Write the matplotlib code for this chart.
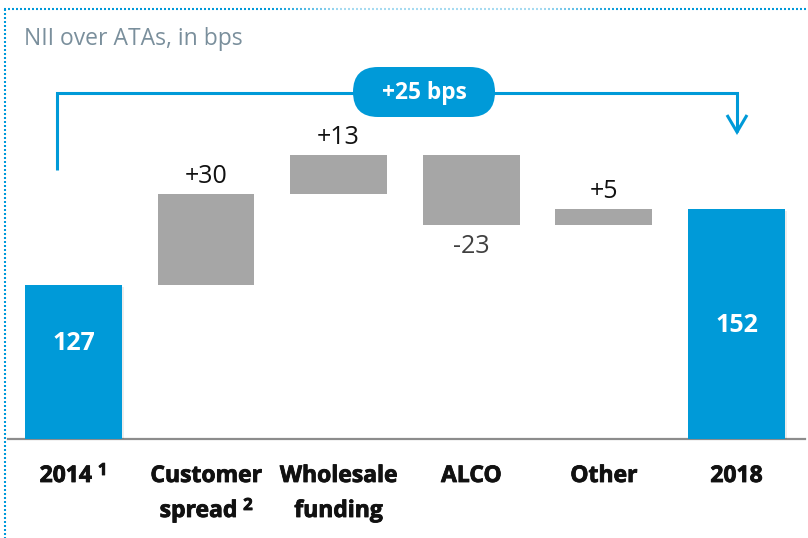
import matplotlib
matplotlib.use("Agg")
import matplotlib.pyplot as plt
import matplotlib.patheffects as pe
from matplotlib.patches import FancyBboxPatch
from matplotlib.collections import LineCollection
import numpy as np

# ---- data ----
categories = ["2014", "Customer\nspread", "Wholesale\nfunding", "ALCO", "Other", "2018"]
footnotes = ["1", "2", "", "", "", ""]
start_value = 127
changes = [30, 13, -23, 5]
change_labels = ["+30", "+13", "-23", "+5"]
end_value = 152
total_label = "+25 bps"
title = "NII over ATAs, in bps"

# ---- style ----
BLUE = "#009ad8"
GREY = "#a6a6a6"
TITLE_C = "#7a8f9c"
FONT = ["Open Sans", "DejaVu Sans"]
W, H = 808, 538

fig = plt.figure(figsize=(W / 100, H / 100), dpi=100)
ax = fig.add_axes([8 / W, (H - 439) / H, (805 - 8) / W, 439 / H])
ax.set_xlim(-0.494, 5.517)
ax.set_ylim(76.5, 220.8)
for s in ["top", "left", "right"]:
    ax.spines[s].set_visible(False)
ax.spines["bottom"].set_color("#8c8c8c")
ax.spines["bottom"].set_linewidth(1.6)
ax.set_xticks([])
ax.set_yticks([])
ax.patch.set_alpha(0)

shadow = [pe.SimplePatchShadow(offset=(1.5, -1.5), shadow_rgbFace="#000000", alpha=0.07), pe.Normal()]
bw = 0.73

# totals
for i, v in [(0, start_value), (5, end_value)]:
    b = ax.bar(i, v, width=bw, color=BLUE, zorder=3)
    b[0].set_path_effects(shadow)

# floating steps
run = start_value
for k, (c, lab) in enumerate(zip(changes, change_labels)):
    i = k + 1
    lo, hi = min(run, run + c), max(run, run + c)
    ax.bar(i, hi - lo, bottom=lo, width=bw, color=GREY, zorder=3)
    if c >= 0:
        ax.annotate(lab, xy=(i, hi), xytext=(0, 11), textcoords="offset pixels",
                    ha="center", va="baseline", fontsize=18, family=FONT, color="#111111")
    else:
        ax.annotate(lab, xy=(i, lo), xytext=(0, -28), textcoords="offset pixels",
                    ha="center", va="baseline", fontsize=18, family=FONT, color="#404040")
    run += c

# ---- overlay in pixel coordinates (y down) ----
ov = fig.add_axes([0, 0, 1, 1], zorder=5)
ov.set_xlim(0, W)
ov.set_ylim(H, 0)
ov.axis("off")
ov.patch.set_alpha(0)

def xpix(i):
    return ax.transData.transform((i, ax.get_ylim()[0]))[0]

# values inside the total bars
for i, v, yp in [(0, start_value, 343), (5, end_value, 325)]:
    ov.text(xpix(i), yp, str(v), ha="center", va="center", color="white",
            fontsize=18, fontweight="bold", family=FONT)

# title
ov.text(24, 45, title, ha="left", va="baseline", fontsize=16.5, color=TITLE_C, family=FONT)

# bracket with arrow
lw = 2.2
ov.plot([57, 57, 737, 737], [170, 93, 93, 132], color=BLUE, lw=lw,
        solid_joinstyle="miter", solid_capstyle="butt")
ov.plot([727, 737, 747], [115, 132, 115], color=BLUE, lw=lw,
        solid_joinstyle="miter", solid_capstyle="butt")
ov.add_patch(FancyBboxPatch((353, 67), 142, 50, boxstyle="round,pad=0,rounding_size=25",
                            fc=BLUE, ec="none"))
ov.text(424, 93, total_label, ha="center", va="center", color="white",
        fontsize=16.4, fontweight="bold", family=FONT)

# dotted frame
xs = np.arange(4, W, 4)
top_alpha = np.interp(xs, [0, 270, 340, 540, 620, W], [1, 1, 0.35, 0.35, 1, 1])
segs = [[(x, 9), (x + 2, 9)] for x in xs]
cols = [(0.0, 0.60, 0.85, a) for a in top_alpha]
ov.add_collection(LineCollection(segs, colors=cols, linewidths=1.5))
ys = np.arange(9, H, 4)
ov.add_collection(LineCollection([[(5, y), (5, y + 2)] for y in ys],
                                 colors=[(0.0, 0.60, 0.85, 1)], linewidths=1.5))

# category labels with footnote markers
fig.canvas.draw()
renderer = fig.canvas.get_renderer()
heavy = [pe.withStroke(linewidth=0.6, foreground="#111111")]
lab_kw = dict(fontsize=16.5, fontweight="bold", family=FONT, color="#111111", va="baseline",
              path_effects=heavy)
sup_kw = dict(fontsize=12, fontweight="bold", family=FONT, color="#111111", va="baseline",
              path_effects=heavy)
base1, lead = 482, 35
for i, (cat, fn) in enumerate(zip(categories, footnotes)):
    lines = cat.split("\n")
    xc = xpix(i)
    for j, line in enumerate(lines):
        yb = base1 + j * lead
        t = ov.text(xc, yb, line, ha="left", **lab_kw)
        wm = t.get_window_extent(renderer).width
        if fn and j == len(lines) - 1:
            s = ov.text(xc, yb - 7, fn, ha="left", **sup_kw)
            ws = s.get_window_extent(renderer).width
            gap = 6
            x0 = xc - (wm + gap + ws) / 2
            t.set_x(x0)
            s.set_x(x0 + wm + gap)
        else:
            t.set_x(xc - wm / 2)

fig.savefig("out.png", dpi=100)
